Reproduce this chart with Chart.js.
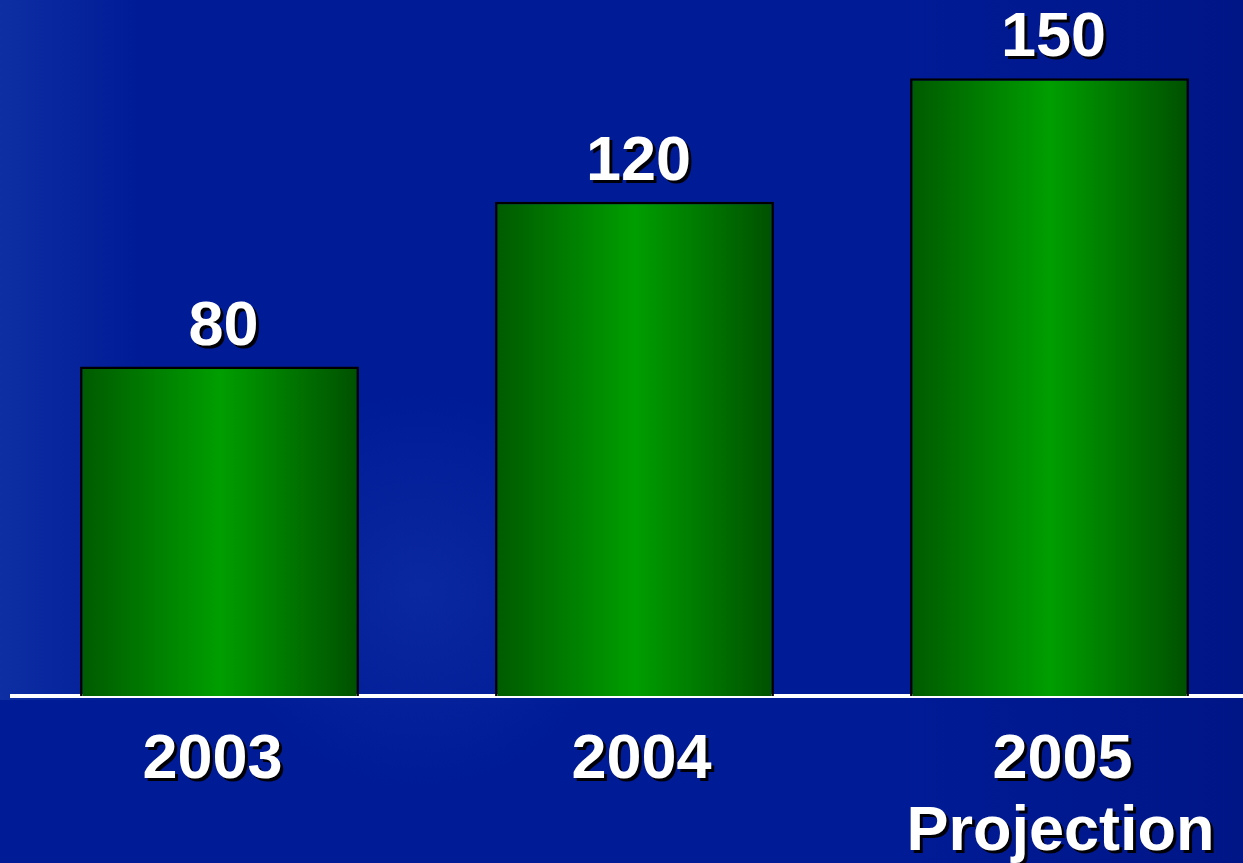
<!DOCTYPE html>
<html>
<head>
<meta charset="utf-8">
<script src="https://cdn.jsdelivr.net/npm/chart.js@4.4.0/dist/chart.umd.min.js"></script>
<style>
    html, body { margin: 0; padding: 0; overflow: hidden; background: #001a94; }
    #wrap { width: 1260px; height: 863px; }
</style>
</head>
<body>
<div id="wrap"><canvas id="salesChart" width="1260" height="863"></canvas></div>
<script>
// Chart data
const years = ['2003', '2004', '2005'];
const subLabels = ['', '', 'Projection'];
const values = [80, 120, 150];

const labelFont = 'bold 63px "Liberation Sans", Arial, sans-serif';
const barPct = 0.672;
// small horizontal nudges so the year labels sit like the original slide
const yearNudge = [-7, 7, 13];

// Background: blue slide with soft lighter streaks
const backgroundPlugin = {
    id: 'slideBackground',
    beforeDraw(chart) {
        const { ctx, width, height } = chart;
        ctx.save();
        ctx.fillStyle = '#001b96';
        ctx.fillRect(0, 0, width, height);

        const edge = ctx.createLinearGradient(0, 0, 140, 0);
        edge.addColorStop(0, 'rgba(30,70,180,0.45)');
        edge.addColorStop(1, 'rgba(30,70,180,0)');
        ctx.fillStyle = edge;
        ctx.fillRect(0, 0, 140, 700);

        const glow = ctx.createRadialGradient(420, 590, 0, 420, 590, 200);
        glow.addColorStop(0, 'rgba(40,80,190,0.25)');
        glow.addColorStop(1, 'rgba(40,80,190,0)');
        ctx.fillStyle = glow;
        ctx.fillRect(0, 0, width, height);

        const dark = ctx.createLinearGradient(900, 0, 1243, 0);
        dark.addColorStop(0, 'rgba(0,10,100,0)');
        dark.addColorStop(1, 'rgba(0,10,100,0.3)');
        ctx.fillStyle = dark;
        ctx.fillRect(900, 0, width - 900, height);
        ctx.restore();
    }
};

// Labels with a dark drop shadow (values over bars, years under the axis)
const labelPlugin = {
    id: 'shadowLabels',
    afterDraw(chart) {
        const { ctx, chartArea } = chart;
        const xScale = chart.scales.x;
        const meta = chart.getDatasetMeta(0);
        ctx.save();
        ctx.font = labelFont;
        ctx.textAlign = 'center';
        ctx.textBaseline = 'alphabetic';
        ctx.fillStyle = '#ffffff';
        ctx.shadowColor = 'rgba(0,0,0,0.95)';
        ctx.shadowOffsetX = 3;
        ctx.shadowOffsetY = 3;
        ctx.shadowBlur = 0;

        meta.data.forEach((bar, i) => {
            ctx.fillText(String(values[i]), bar.x + 4, bar.y - 22);
        });

        years.forEach((year, i) => {
            const x = xScale.getPixelForValue(i);
            ctx.fillText(year, x + yearNudge[i], chartArea.bottom + 82);
            if (subLabels[i]) {
                ctx.fillText(subLabels[i], x + 11, chartArea.bottom + 154);
            }
        });
        ctx.restore();
    }
};

function barGradient(context) {
    const chart = context.chart;
    const xScale = chart.scales.x;
    if (!chart.chartArea || !xScale) {
        return '#009400';
    }
    const cx = xScale.getPixelForValue(context.dataIndex);
    const half = (xScale.width / years.length) * barPct / 2;
    const g = chart.ctx.createLinearGradient(cx - half, 0, cx + half, 0);
    g.addColorStop(0, '#005a00');
    g.addColorStop(0.5, '#009e00');
    g.addColorStop(1, '#005000');
    return g;
}

document.addEventListener('DOMContentLoaded', () => {
    const ctx = document.getElementById('salesChart').getContext('2d');

    window.salesChart = new Chart(ctx, {
        type: 'bar',
        data: {
            labels: years,
            datasets: [{
                data: values,
                backgroundColor: barGradient,
                borderColor: '#000000',
                borderWidth: 2.5,
                borderSkipped: 'bottom',
                barPercentage: barPct,
                categoryPercentage: 1
            }]
        },
        options: {
            responsive: false,
            animation: false,
            layout: {
                padding: { top: 0, left: 12, right: 3, bottom: 167 }
            },
            plugins: {
                legend: { display: false },
                tooltip: { enabled: false }
            },
            scales: {
                x: {
                    z: 1,
                    grid: { display: false, drawTicks: false },
                    border: { display: true, color: '#ffffff', width: 4 },
                    ticks: { display: false }
                },
                y: {
                    display: false,
                    min: 0,
                    max: 169
                }
            }
        },
        plugins: [backgroundPlugin, labelPlugin]
    });
});
</script>
</body>
</html>
